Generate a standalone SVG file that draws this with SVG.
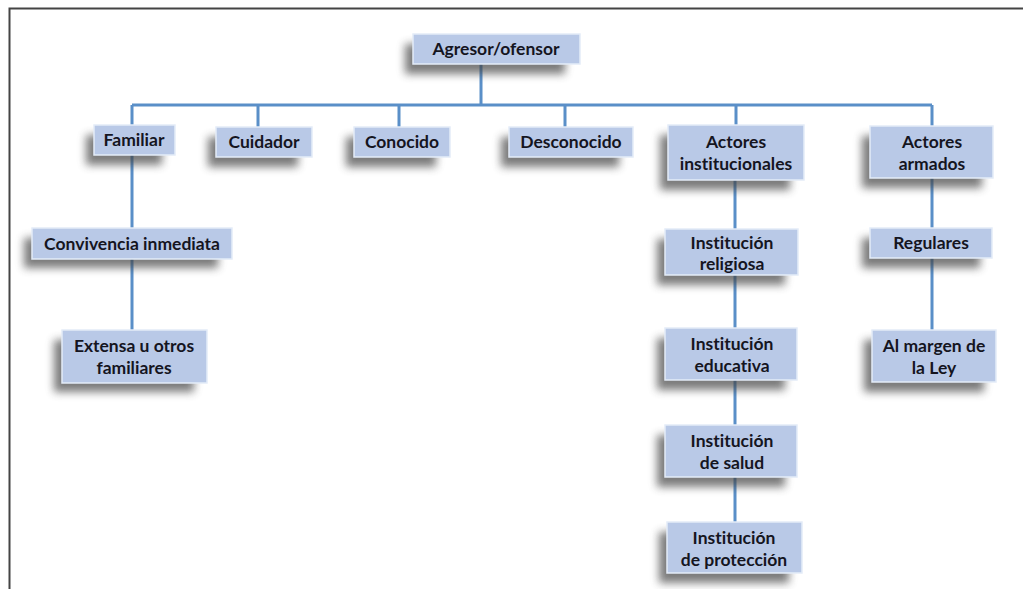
<svg xmlns="http://www.w3.org/2000/svg" width="1023" height="589" viewBox="0 0 1023 589">
<style>
.box{fill:#b9c9e7;stroke:#e4ecf8;stroke-width:1.5}
.t{font-family:Lato,"Open Sans",sans-serif;font-weight:bold;font-size:17.5px;fill:#15151f;text-anchor:middle;font-variant-ligatures:none;font-feature-settings:"liga" 0,"dlig" 0}
.c{stroke:#5a8fc8;stroke-width:3;fill:none}
</style>
<defs>
<filter id="sh" x="-30%" y="-50%" width="160%" height="220%">
<feGaussianBlur stdDeviation="4.5"/>
</filter>
</defs>
<rect width="1023" height="589" fill="#ffffff"/>
<path d="M9.5,589 V8.5 H1023" fill="none" stroke="#444" stroke-width="2"/>
<g id="connectors">
<path class="c" d="M481,64 V105 M132,105 H932 M132,105 V125 M258,105 V127 M399,105 V127 M565,105 V127 M736,105 V126 M932,105 V126"/>
<path class="c" d="M132,155 V228 M132,259 V330"/>
<path class="c" d="M735,180 V229 M735,275 V328 M735,380 V425 M735,477 V522"/>
<path class="c" d="M932,178 V228 M932,258 V330"/>
</g>
<g id="n-agresor"><rect x="405" y="44" width="160" height="30" fill="#444" opacity="0.7" filter="url(#sh)"/><rect class="box" x="413" y="34" width="167" height="30"/><text class="t" x="496" y="55">Agresor/ofensor</text></g>
<g id="n-familiar"><rect x="86" y="135" width="76" height="30" fill="#444" opacity="0.7" filter="url(#sh)"/><rect class="box" x="94" y="125" width="81" height="30"/><text class="t" x="134" y="146">Familiar</text></g>
<g id="n-cuidador"><rect x="208" y="137" width="90" height="30" fill="#444" opacity="0.7" filter="url(#sh)"/><rect class="box" x="216" y="127" width="96" height="30"/><text class="t" x="264" y="148">Cuidador</text></g>
<g id="n-conocido"><rect x="346" y="137" width="90" height="30" fill="#444" opacity="0.7" filter="url(#sh)"/><rect class="box" x="354" y="127" width="96" height="30"/><text class="t" x="402" y="148">Conocido</text></g>
<g id="n-desconocido"><rect x="501" y="137" width="118" height="30" fill="#444" opacity="0.7" filter="url(#sh)"/><rect class="box" x="509" y="127" width="124" height="30"/><text class="t" x="571" y="148">Desconocido</text></g>
<g id="n-institucionales"><rect x="660" y="135" width="130" height="55" fill="#444" opacity="0.7" filter="url(#sh)"/><rect class="box" x="668" y="125" width="136" height="55"/><text class="t" x="736" y="148">Actores</text><text class="t" x="736" y="170">institucionales</text></g>
<g id="n-armados"><rect x="862" y="136" width="120" height="52" fill="#444" opacity="0.7" filter="url(#sh)"/><rect class="box" x="870" y="126" width="123" height="52"/><text class="t" x="932" y="148">Actores</text><text class="t" x="932" y="170">armados</text></g>
<g id="n-convivencia"><rect x="24" y="238" width="194" height="30" fill="#444" opacity="0.7" filter="url(#sh)"/><rect class="box" x="32" y="228" width="200" height="31"/><text class="t" x="132" y="250">Convivencia inmediata</text></g>
<g id="n-extensa"><rect x="54" y="340" width="140" height="52" fill="#444" opacity="0.7" filter="url(#sh)"/><rect class="box" x="62" y="330" width="145" height="53"/><text class="t" x="134" y="352">Extensa u otros</text><text class="t" x="134" y="374">familiares</text></g>
<g id="n-religiosa"><rect x="657" y="239" width="128" height="46" fill="#444" opacity="0.7" filter="url(#sh)"/><rect class="box" x="665" y="229" width="133" height="46"/><text class="t" x="732" y="249">Institución</text><text class="t" x="732" y="270">religiosa</text></g>
<g id="n-regulares"><rect x="862" y="238" width="118" height="30" fill="#444" opacity="0.7" filter="url(#sh)"/><rect class="box" x="870" y="228" width="122" height="30"/><text class="t" x="931" y="249">Regulares</text></g>
<g id="n-educativa"><rect x="657" y="338" width="128" height="52" fill="#444" opacity="0.7" filter="url(#sh)"/><rect class="box" x="665" y="328" width="132" height="52"/><text class="t" x="732" y="350">Institución</text><text class="t" x="732" y="372">educativa</text></g>
<g id="n-margen"><rect x="864" y="340" width="120" height="52" fill="#444" opacity="0.7" filter="url(#sh)"/><rect class="box" x="872" y="330" width="124" height="52"/><text class="t" x="934" y="352">Al margen de</text><text class="t" x="934" y="374">la Ley</text></g>
<g id="n-salud"><rect x="657" y="435" width="128" height="52" fill="#444" opacity="0.7" filter="url(#sh)"/><rect class="box" x="665" y="425" width="132" height="52"/><text class="t" x="732" y="447">Institución</text><text class="t" x="732" y="469">de salud</text></g>
<g id="n-proteccion"><rect x="659" y="532" width="130" height="51" fill="#444" opacity="0.7" filter="url(#sh)"/><rect class="box" x="667" y="522" width="135" height="51"/><text class="t" x="734" y="544">Institución</text><text class="t" x="734" y="566">de protección</text></g>
</svg>
